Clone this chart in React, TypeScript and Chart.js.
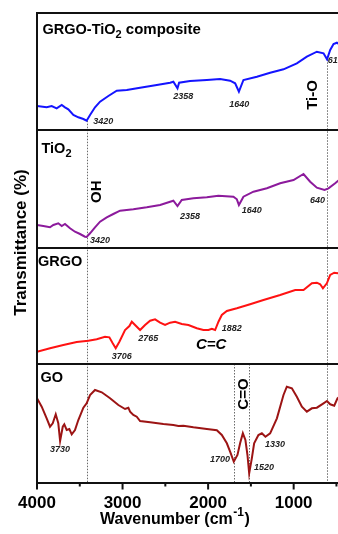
import React, { useEffect, useRef } from 'react';
import { Chart, registerables } from 'chart.js';

Chart.register(...registerables);

// FTIR spectra (wavenumber in cm-1, transmittance in arbitrary units within each panel)
const wnComposite = [4000, 3887, 3828, 3770, 3711, 3673, 3634, 3575, 3517, 3458, 3420, 3380, 3322, 3263, 3166, 3068, 2951, 2795, 2600, 2444, 2406, 2358, 2339, 2211, 2015, 1860, 1743, 1684, 1640, 1587, 1430, 1275, 1119, 963, 846, 729, 651, 610, 573, 534, 495, 440];
const tComposite = [24, 22.7, 24, 21.7, 25, 22.7, 20.7, 15, 12.7, 11, 9.3, 15, 22.7, 28.3, 34, 39.3, 40, 42.3, 45, 47.3, 48.3, 41.7, 47.3, 49, 50, 51, 49.3, 46.7, 38.3, 50, 53.3, 57.3, 60.7, 66.7, 73.3, 78.3, 76.7, 70.7, 80, 86, 87.3, 84];

const wnTiO2 = [4000, 3926, 3848, 3809, 3751, 3711, 3673, 3614, 3556, 3497, 3439, 3420, 3380, 3322, 3263, 3185, 3108, 3029, 2874, 2717, 2561, 2444, 2406, 2358, 2308, 2172, 2015, 1880, 1704, 1664, 1640, 1587, 1470, 1313, 1158, 1002, 885, 807, 729, 640, 593, 515, 480, 440];
const tTiO2 = [23, 22, 20.7, 23, 24.7, 22, 24, 19.7, 16.3, 14, 11.3, 11, 14.7, 20.7, 26.3, 30.7, 34, 37.3, 38.7, 40.7, 43, 46.3, 47.3, 42, 48, 49.7, 50.7, 52.3, 51.3, 48.7, 43, 51.3, 56.3, 59.7, 64.7, 68, 74, 66.3, 60.3, 58, 59.7, 64.7, 67.3, 70];

const wnGRGO = [4000, 3848, 3692, 3536, 3400, 3302, 3205, 3154, 3115, 3080, 3037, 2971, 2920, 2892, 2854, 2795, 2737, 2678, 2620, 2561, 2503, 2444, 2386, 2308, 2230, 2132, 2055, 1996, 1957, 1918, 1879, 1840, 1781, 1664, 1509, 1353, 1158, 982, 885, 787, 729, 690, 658, 612, 573, 526, 488, 440];
const tGRGO = [12.3, 15.7, 19, 22, 23.3, 24.7, 27.3, 26.7, 20.7, 15.7, 22.3, 34, 38, 42.3, 39, 34, 39, 43.3, 44.7, 41.3, 39, 41.3, 42.3, 40, 39, 35.7, 34, 34, 35.3, 34, 42.3, 49, 53, 55.7, 59.7, 64, 69, 74, 74, 80.7, 81.3, 79.7, 75.7, 80.7, 89, 91.3, 90.7, 93];

const wnGO = [4000, 3945, 3887, 3848, 3816, 3781, 3751, 3730, 3699, 3681, 3653, 3622, 3594, 3556, 3517, 3458, 3420, 3380, 3322, 3243, 3146, 3049, 2971, 2932, 2912, 2874, 2834, 2795, 2678, 2523, 2406, 2347, 2289, 2172, 2015, 1898, 1840, 1781, 1743, 1700, 1657, 1626, 1594, 1564, 1540, 1520, 1489, 1462, 1412, 1372, 1330, 1275, 1196, 1119, 1080, 1021, 963, 904, 846, 787, 729, 651, 611, 573, 526, 488, 440];
const tGO = [84.7, 76.3, 64.7, 56.3, 59.7, 68.7, 59.7, 42, 56.3, 58.7, 53, 54, 48.7, 53, 63, 75.3, 79.7, 88, 93, 90.7, 84.7, 78, 74, 75.3, 71.3, 68, 66.3, 62, 60.7, 59, 58, 57, 57.3, 55.7, 54, 52.7, 48, 39.7, 31.3, 21.3, 28, 39.7, 49.7, 43, 28, 9.7, 24.7, 39.7, 48, 49.7, 46.3, 49.7, 64.7, 88, 96.3, 94.7, 86.3, 76.3, 71.3, 74.7, 75.3, 79.7, 82, 78.7, 77.3, 84.7, 88];

// x-axis ticks (major ones are labelled)
const xTicks = [4000, 3500, 3000, 2500, 2000, 1500, 1000, 500];

// vertical offset of each stacked panel on the shared y scale
const OFF_COMPOSITE = 353;
const OFF_TIO2 = 235;
const OFF_GRGO = 119;
const OFF_GO = 0;
const Y_MAX = 470;

const FONT = 'Arial, "Liberation Sans", Helvetica, sans-serif';

// peak annotations (canvas pixel layout)
const peakLabels = [
  { text: '3420', x: 93.3, y: 124 },
  { text: '2358', x: 173.3, y: 99.3 },
  { text: '1640', x: 229.3, y: 107.3 },
  { text: '610', x: 327.7, y: 63.3 },
  { text: '3420', x: 90, y: 242.7 },
  { text: '2358', x: 180, y: 218.7 },
  { text: '1640', x: 241.7, y: 213.3 },
  { text: '640', x: 310, y: 203.3 },
  { text: '3706', x: 111.7, y: 359.3 },
  { text: '2765', x: 138.3, y: 340.7 },
  { text: '1882', x: 221.7, y: 330.7 },
  { text: '3730', x: 50, y: 452.3 },
  { text: '1700', x: 210, y: 461.7 },
  { text: '1520', x: 254, y: 470 },
  { text: '1330', x: 265, y: 446.7 },
];

const bandLabels = [
  { text: 'Ti-O', x: 311.7, y: 95 },
  { text: 'OH', x: 96, y: 191.7 },
  { text: 'C=O', x: 242.5, y: 394 },
];

const panelNames = [
  { main: 'GRGO-TiO', sub: '2', tail: ' composite', x: 42.5, y: 34 },
  { main: 'TiO', sub: '2', tail: '', x: 41.5, y: 152.5 },
  { main: 'GRGO', sub: '', tail: '', x: 38, y: 266 },
  { main: 'GO', sub: '', tail: '', x: 40.5, y: 381.5 },
];

// dotted guide lines: wavenumber, from (y value) down to (y value)
const guides = [
  { wn: 3420, from: OFF_COMPOSITE + 9.3, to: 0 },
  { wn: 610, from: OFF_COMPOSITE + 70.7, to: 0 },
  { wn: 1700, from: OFF_GRGO, to: 0 },
  { wn: 1520, from: OFF_GRGO, to: 0 },
];

const toPoints = (wn: number[], t: number[], off: number) =>
  wn.map((w, i) => ({ x: w, y: t[i] + off }));

const framePlugin = {
  id: 'irFrame',
  beforeDatasetsDraw(chart: any) {
    const { ctx, scales } = chart;
    const xs = scales.x;
    const ys = scales.y;
    ctx.save();
    ctx.strokeStyle = '#6a6a6a';
    ctx.lineWidth = 1;
    ctx.setLineDash([1.5, 1.5]);
    for (const g of guides) {
      const px = Math.round(xs.getPixelForValue(g.wn)) + 0.5;
      ctx.beginPath();
      ctx.moveTo(px, ys.getPixelForValue(g.from));
      ctx.lineTo(px, ys.getPixelForValue(g.to));
      ctx.stroke();
    }
    ctx.restore();
  },
  afterDraw(chart: any) {
    const { ctx, chartArea: a, scales } = chart;
    const xs = scales.x;
    const ys = scales.y;
    ctx.save();
    ctx.strokeStyle = '#111';
    ctx.lineWidth = 2;
    ctx.setLineDash([]);
    // panel borders
    for (const v of [Y_MAX, OFF_COMPOSITE, OFF_TIO2, OFF_GRGO, 0]) {
      const py = ys.getPixelForValue(v);
      ctx.beginPath();
      ctx.moveTo(a.left - 1, py);
      ctx.lineTo(a.right + 2, py);
      ctx.stroke();
    }
    ctx.beginPath();
    ctx.moveTo(a.left, a.top - 1);
    ctx.lineTo(a.left, a.bottom + 1);
    ctx.stroke();
    // x tick marks
    for (const v of xTicks) {
      const px = xs.getPixelForValue(v);
      const len = v % 1000 === 0 ? 6.5 : 3.5;
      ctx.beginPath();
      ctx.moveTo(px, a.bottom);
      ctx.lineTo(px, a.bottom + len);
      ctx.stroke();
    }

    // panel names
    ctx.fillStyle = '#000';
    ctx.textBaseline = 'alphabetic';
    ctx.textAlign = 'left';
    for (const p of panelNames) {
      ctx.font = `bold 14.5px ${FONT}`;
      let cx = p.x;
      ctx.fillText(p.main, cx, p.y);
      cx += ctx.measureText(p.main).width;
      if (p.sub) {
        ctx.font = `bold 11px ${FONT}`;
        ctx.fillText(p.sub, cx, p.y + 4);
        cx += ctx.measureText(p.sub).width;
      }
      if (p.tail) {
        ctx.font = `bold 15px ${FONT}`;
        ctx.fillText(p.tail, cx, p.y);
      }
    }

    // peak positions
    ctx.fillStyle = '#222';
    ctx.font = `italic bold 9px ${FONT}`;
    for (const l of peakLabels) ctx.fillText(l.text, l.x, l.y);

    // C=C annotation
    ctx.fillStyle = '#000';
    ctx.font = `italic bold 15px ${FONT}`;
    ctx.fillText('C=C', 196, 348.5);

    // rotated band labels
    ctx.font = `bold 15px ${FONT}`;
    ctx.textAlign = 'center';
    ctx.textBaseline = 'middle';
    for (const b of bandLabels) {
      ctx.save();
      ctx.translate(b.x, b.y);
      ctx.rotate(-Math.PI / 2);
      ctx.fillText(b.text, 0, 1);
      ctx.restore();
    }

    // y-axis title
    ctx.save();
    ctx.translate(20.5, 242.5);
    ctx.rotate(-Math.PI / 2);
    ctx.font = `bold 17px ${FONT}`;
    ctx.fillText('Transmittance (%)', 0, 1);
    ctx.restore();

    // x-axis title with superscript
    ctx.textAlign = 'left';
    ctx.textBaseline = 'alphabetic';
    ctx.font = `bold 16px ${FONT}`;
    let tx = 100;
    const base = 523.5;
    ctx.fillText('Wavenumber (cm', tx, base);
    tx += ctx.measureText('Wavenumber (cm').width + 0.5;
    ctx.font = `bold 12px ${FONT}`;
    ctx.fillText('-1', tx, base - 8);
    tx += ctx.measureText('-1').width + 0.5;
    ctx.font = `bold 16px ${FONT}`;
    ctx.fillText(')', tx, base);
    ctx.restore();
  },
};

export default function App() {
  const ref = useRef<HTMLCanvasElement>(null);

  useEffect(() => {
    const canvas = ref.current;
    if (!canvas) return;
    const line = (data: { x: number; y: number }[], color: string) => ({
      data,
      borderColor: color,
      backgroundColor: color,
      borderWidth: 2,
      pointRadius: 0,
      tension: 0,
      fill: false,
    });
    const chart = new Chart(canvas, {
      type: 'line',
      data: {
        datasets: [
          line(toPoints(wnComposite, tComposite, OFF_COMPOSITE), '#1414ff'),
          line(toPoints(wnTiO2, tTiO2, OFF_TIO2), '#8c1a9c'),
          line(toPoints(wnGRGO, tGRGO, OFF_GRGO), '#ff1212'),
          line(toPoints(wnGO, tGO, OFF_GO), '#9c1414'),
        ] as any,
      },
      options: {
        responsive: false,
        animation: false,
        devicePixelRatio: 1,
        layout: { padding: { left: 37, top: 13, right: 15, bottom: 0 } },
        plugins: {
          legend: { display: false },
          tooltip: { enabled: false },
        },
        scales: {
          x: {
            type: 'linear',
            min: 400,
            max: 4000,
            reverse: true,
            position: 'bottom',
            grid: { display: false, drawTicks: false },
            border: { display: false },
            afterBuildTicks: (s: any) => {
              s.ticks = xTicks.map((v) => ({ value: v }));
            },
            afterFit: (s: any) => {
              s.height = 51;
            },
            ticks: {
              autoSkip: false,
              maxRotation: 0,
              padding: 10,
              color: '#000',
              font: { family: FONT, size: 17, weight: 'bold' },
              callback: (v: any) => (Number(v) % 1000 === 0 ? String(v) : ''),
            },
          },
          y: { display: false, min: 0, max: Y_MAX },
        },
      } as any,
      plugins: [framePlugin],
    });
    return () => chart.destroy();
  }, []);

  return (
    <div
      style={{
        position: 'fixed',
        left: 0,
        top: 0,
        width: 338,
        height: 534,
        overflow: 'hidden',
        background: '#fff',
      }}
    >
      <canvas ref={ref} width={360} height={534} style={{ display: 'block', width: 360, height: 534 }} />
    </div>
  );
}
